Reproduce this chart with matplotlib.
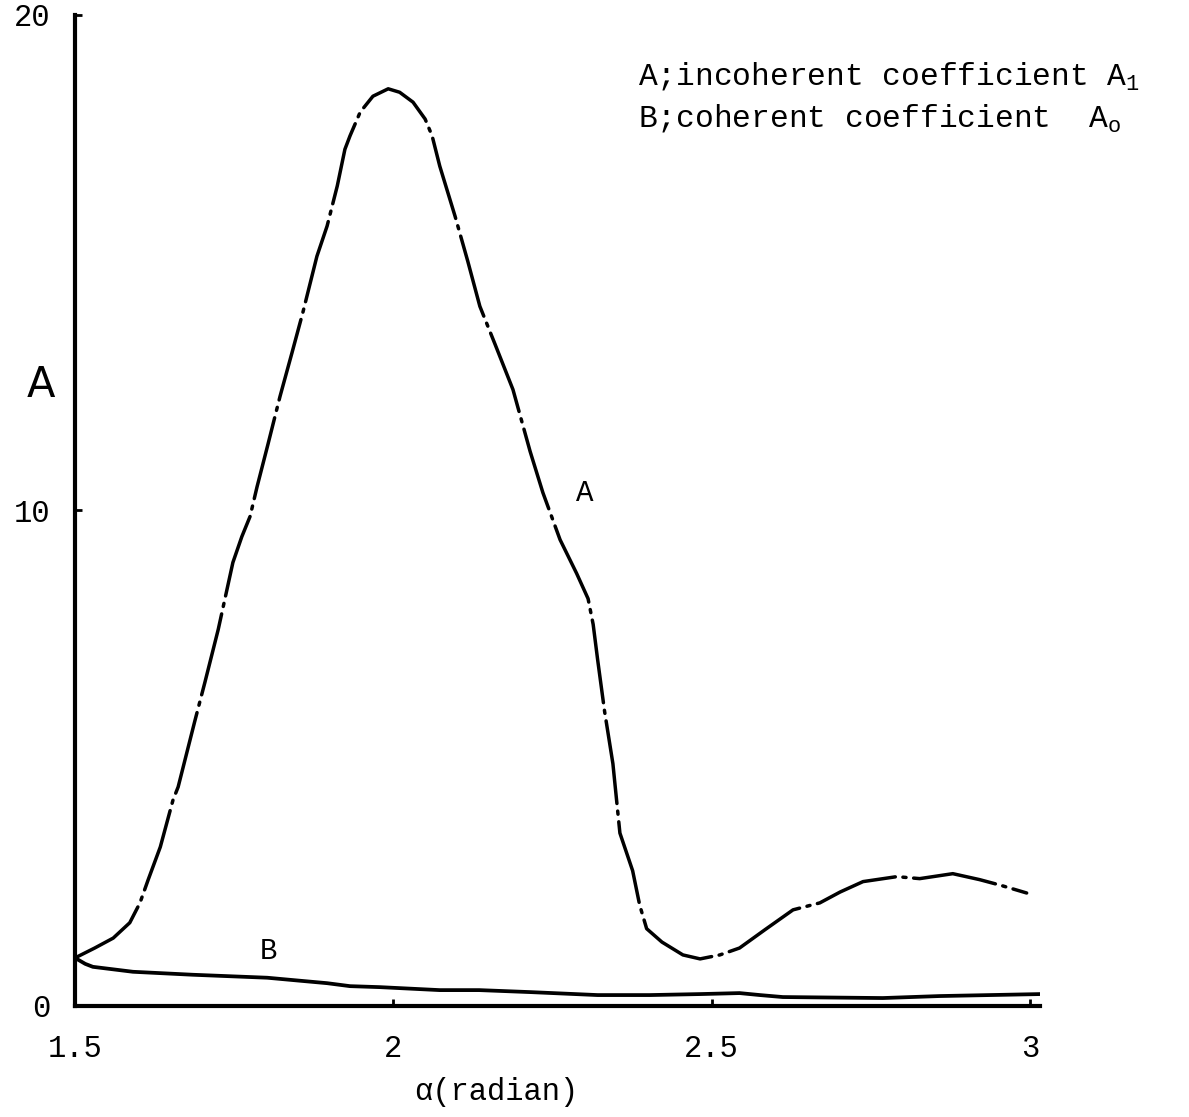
import matplotlib.pyplot as plt

plt.rcParams['font.family'] = ['Liberation Mono', 'DejaVu Sans Mono']
plt.rcParams['mathtext.fontset'] = 'custom'
plt.rcParams['mathtext.rm'] = 'Liberation Mono'
plt.rcParams['mathtext.it'] = 'Liberation Mono'

# curve A: incoherent coefficient A1
alpha_a = [1.500, 1.531, 1.560, 1.586, 1.602, 1.615, 1.634, 1.654, 1.662, 1.688,
           1.704, 1.725, 1.748, 1.762, 1.775, 1.786, 1.803, 1.822, 1.841, 1.858,
           1.880, 1.896, 1.912, 1.924, 1.932, 1.948, 1.968, 1.992, 2.010, 2.031,
           2.050, 2.061, 2.073, 2.097, 2.117, 2.136, 2.160, 2.188, 2.215, 2.235,
           2.262, 2.288, 2.306, 2.314, 2.321, 2.332, 2.345, 2.356, 2.376, 2.387,
           2.398, 2.422, 2.455, 2.482, 2.513, 2.544, 2.584, 2.628, 2.670, 2.702,
           2.738, 2.791, 2.827, 2.879, 2.921, 2.953, 2.995]
coef_a = [0.97, 1.17, 1.37, 1.68, 2.08, 2.55, 3.21, 4.16, 4.42, 5.74,
          6.53, 7.60, 8.95, 9.47, 9.88, 10.48, 11.33, 12.30, 13.19, 14.00,
          15.13, 15.74, 16.55, 17.29, 17.56, 18.04, 18.36, 18.51, 18.44, 18.24,
          17.90, 17.56, 16.95, 15.94, 15.03, 14.12, 13.35, 12.44, 11.19, 10.36,
          9.41, 8.73, 8.22, 7.70, 6.99, 5.94, 4.89, 3.49, 2.73, 2.04,
          1.56, 1.29, 1.03, 0.95, 1.03, 1.17, 1.54, 1.94, 2.08, 2.30,
          2.51, 2.61, 2.57, 2.67, 2.55, 2.44, 2.28]

# curve B: coherent coefficient A0
alpha_b = [1.500, 1.516, 1.528, 1.591, 1.685, 1.802, 1.853, 1.896, 1.932, 1.979,
           2.073, 2.135, 2.215, 2.321, 2.403, 2.482, 2.544, 2.576, 2.612, 2.769,
           2.858, 3.016]
coef_b = [0.97, 0.85, 0.79, 0.69, 0.63, 0.57, 0.51, 0.46, 0.40, 0.38,
          0.32, 0.32, 0.28, 0.22, 0.22, 0.24, 0.26, 0.22, 0.18, 0.16,
          0.20, 0.24]

xticks = [1.5, 2, 2.5, 3]
xtick_labels = ['1.5', '2', '2.5', '3']
yticks = [0, 10, 20]

fig = plt.figure(figsize=(11.89, 11.17), dpi=100)
ax = fig.add_axes([0.0631, 0.0994, 0.8116, 0.8872])

ax.plot(alpha_a, coef_a, color='black', lw=2.5, dashes=(24, 2.2, 0.9, 2.2),
        dash_capstyle='round', solid_joinstyle='round')
ax.plot(alpha_b, coef_b, color='black', lw=2.7, solid_capstyle='round',
        solid_joinstyle='round')

ax.set_xlim(1.5, 3.016)
ax.set_ylim(0, 20)
ax.set_xticks(xticks)
ax.set_xticklabels(xtick_labels)
ax.set_yticks(yticks)

for s in ['top', 'right']:
    ax.spines[s].set_visible(False)
for s in ['left', 'bottom']:
    ax.spines[s].set_linewidth(3)

ax.tick_params(axis='both', direction='in', length=5, width=2, labelsize=22)
ax.tick_params(axis='x', pad=20)
ax.tick_params(axis='y', pad=18)

ax.set_xlabel('α(radian)', fontsize=22)
ax.xaxis.set_label_coords(0.437, -0.072)
ax.set_ylabel('A', fontsize=30, rotation=0,
              family=['Liberation Sans Narrow', 'DejaVu Sans'],
              ha='center', va='center')
ax.yaxis.set_label_coords(-0.035, 0.627)

ax.text(2.287, 10.2, 'A', fontsize=21)
ax.text(1.79, 0.95, 'B', fontsize=21)

ax.text(2.385, 18.6, 'A;incoherent coefficient A$_{1}$', fontsize=22.5)
ax.text(2.385, 17.75, 'B;coherent coefficient  A$_{o}$', fontsize=22.5)

fig.savefig('out.png', dpi=100)
